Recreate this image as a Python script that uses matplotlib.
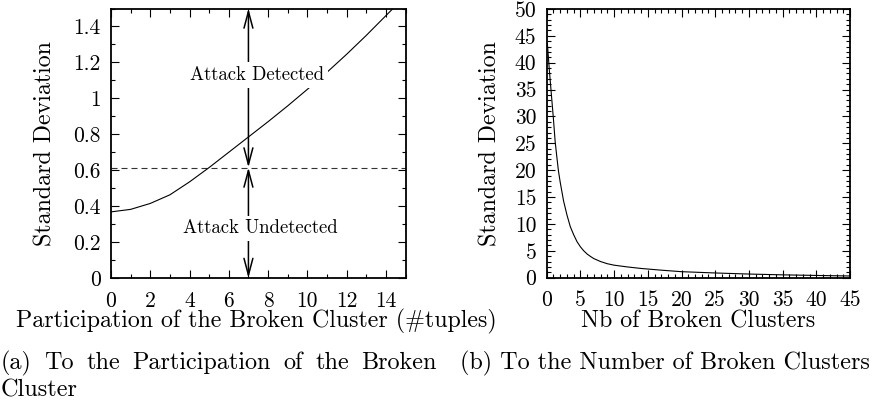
import matplotlib
matplotlib.use("Agg")
import matplotlib.pyplot as plt
from matplotlib.ticker import MultipleLocator, FuncFormatter
from matplotlib.patches import FancyArrowPatch

plt.rcParams['font.family'] = ['cmr10', 'DejaVu Serif']
plt.rcParams['mathtext.fontset'] = 'cm'
plt.rcParams['axes.unicode_minus'] = False
plt.rcParams['axes.formatter.use_mathtext'] = False

# ---------------- data ----------------
# (a) std deviation vs participation of the broken cluster
part_x = [0, 1, 2, 3, 4, 5, 6, 7, 8, 9, 10, 11, 12, 13, 14, 15]
part_std = [0.368, 0.382, 0.415, 0.463, 0.535, 0.615, 0.700, 0.785, 0.870,
            0.958, 1.050, 1.145, 1.245, 1.350, 1.460, 1.570]
threshold = 0.615
arrow_x = 7
label_detected = "Attack Detected"
label_undetected = "Attack Undetected"

# (b) std deviation vs number of broken clusters
nb_x = [0.1, 0.4, 0.7, 1.0, 1.25, 1.5, 1.75, 2.0, 2.5, 3.0, 3.5, 4.0, 4.5, 5.0,
        5.5, 6.0, 6.5, 7.0, 8.0, 9.0, 10, 12, 14, 17, 20, 25, 30, 35, 40, 45]
nb_std = [43.6, 38.5, 34.0, 29.5, 25.4, 22.5, 19.8, 17.8, 14.3, 11.7, 9.5, 8.0,
          6.7, 5.75, 5.0, 4.4, 3.95, 3.55, 3.0, 2.6, 2.33, 2.0, 1.72, 1.4, 1.12,
          0.88, 0.68, 0.53, 0.42, 0.32]

ylabel = "Standard Deviation"
xlabel_a = "Participation of the Broken Cluster (#tuples)"
xlabel_b = "Nb of Broken Clusters"
caption_a1 = "(a) To the Participation of the Broken"
caption_a2 = "Cluster"
caption_b = "(b) To the Number of Broken Clusters"

W, H = 876, 412
fig = plt.figure(figsize=(W / 100, H / 100), dpi=100)

def px_axes(l, t, r, b):
    return [l / W, 1 - b / H, (r - l) / W, (b - t) / H]

ax1 = fig.add_axes(px_axes(111, 8.5, 405.5, 278))
ax2 = fig.add_axes(px_axes(546.7, 9, 850, 277.7))

TICK_FS = 15.5
LABEL_FS = 17.2
fmt = FuncFormatter(lambda v, p: "%g" % round(v, 6))

for ax in (ax1, ax2):
    for s in ax.spines.values():
        s.set_linewidth(1.3)
    ax.tick_params(which='both', direction='in', top=True, right=True,
                   labelsize=TICK_FS, width=0.8)
    ax.tick_params(which='major', length=5.8)
    ax.tick_params(which='minor', length=3.0)
    ax.tick_params(axis='x', pad=9.5)
    ax.tick_params(axis='y', pad=7.5)
    ax.xaxis.set_major_formatter(fmt)
    ax.yaxis.set_major_formatter(fmt)

# ---- panel (a)
ax1.plot(part_x, part_std, color='black', lw=0.8, zorder=3)
ax1.axhline(threshold, color='#333333', lw=0.8, linestyle=(0, (5.4, 3.6)), zorder=2)
ax1.set_xlim(0, 15)
ax1.set_ylim(0, 1.5)
ax1.xaxis.set_major_locator(MultipleLocator(2))
ax1.xaxis.set_minor_locator(MultipleLocator(1))
ax1.yaxis.set_major_locator(MultipleLocator(0.2))
ax1.yaxis.set_minor_locator(MultipleLocator(0.1))

astyle = '<->,head_length=12,head_width=3.2'
for y0, y1 in ((0, threshold), (threshold, 1.5)):
    arr = FancyArrowPatch((arrow_x, y0), (arrow_x, y1), arrowstyle=astyle,
                          mutation_scale=1, lw=1.1, color='black',
                          shrinkA=0, shrinkB=0, zorder=4, clip_on=False)
    ax1.add_patch(arr)

bb = dict(facecolor='white', edgecolor='none', pad=2.5)
ax1.text(7.43, 1.13, label_detected, ha='center', va='center', fontsize=13.5,
         bbox=bb, zorder=5)
ax1.text(7.63, 0.277, label_undetected, ha='center', va='center', fontsize=13.5,
         bbox=bb, zorder=5)

ax1.set_ylabel(ylabel, fontsize=LABEL_FS)
ax1.set_xlabel(xlabel_a, fontsize=LABEL_FS)
ax1.yaxis.set_label_coords((45 - 111) / 294.5, (278 - 144) / 269.5)
ax1.yaxis.label.set_va('center')
ax1.xaxis.set_label_coords((256.5 - 111) / 294.5, (278 - 327.7) / 269.5)
ax1.xaxis.label.set_va('baseline')

# ---- panel (b)
ax2.plot(nb_x, nb_std, color='black', lw=0.8, zorder=3)
ax2.set_xlim(0, 45)
ax2.set_ylim(0, 50)
ax2.xaxis.set_major_locator(MultipleLocator(5))
ax2.xaxis.set_minor_locator(MultipleLocator(1))
ax2.yaxis.set_major_locator(MultipleLocator(5))
ax2.yaxis.set_minor_locator(MultipleLocator(1))
ax2.set_ylabel(ylabel, fontsize=LABEL_FS)
ax2.set_xlabel(xlabel_b, fontsize=LABEL_FS)
ax2.yaxis.set_label_coords((490 - 546.7) / 303.3, (277.7 - 144) / 268.7)
ax2.yaxis.label.set_va('center')
ax2.xaxis.set_label_coords(0.5, (277.7 - 327.7) / 268.7)
ax2.xaxis.label.set_va('baseline')

# ---- captions
CAP_FS = 17.4
renderer = fig.canvas.get_renderer()

# first caption line is justified (words spread over the column width)
words = caption_a1.split(" ")
left_px, right_px = 1.0, 437.0
word_texts = [fig.text(0, 1 - 369.3 / H, w, ha='left', va='baseline',
                       fontsize=CAP_FS) for w in words]
widths = [t.get_window_extent(renderer).width for t in word_texts]
gap = (right_px - left_px - sum(widths)) / (len(words) - 1)
xpos = left_px
for t, w in zip(word_texts, widths):
    t.set_x(xpos / W)
    xpos += w + gap

fig.text(1 / W, 1 - 396.7 / H, caption_a2, ha='left', va='baseline', fontsize=CAP_FS)
fig.text(460 / W, 1 - 369.3 / H, caption_b, ha='left', va='baseline', fontsize=CAP_FS)

fig.savefig("out.png", dpi=100)
